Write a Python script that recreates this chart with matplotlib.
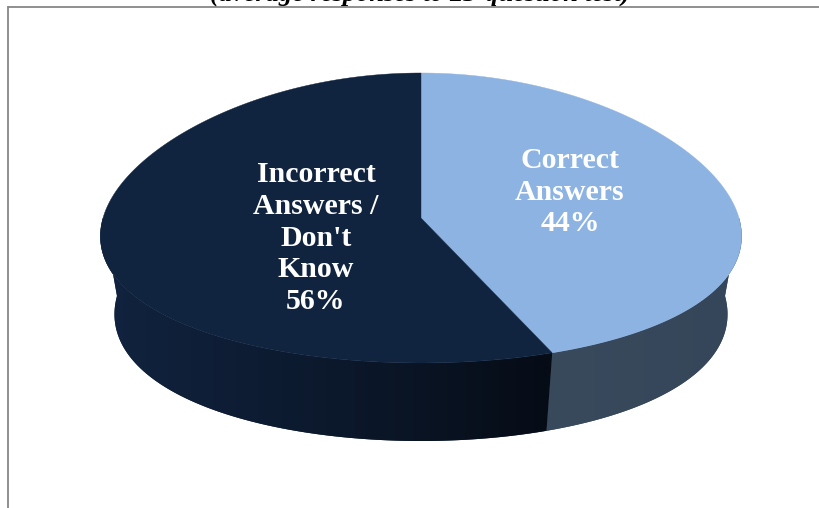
import numpy as np
import matplotlib

matplotlib.use("Agg")
import matplotlib.pyplot as plt
from matplotlib.colors import LinearSegmentedColormap
from matplotlib.patches import Polygon

# ---- data ----
labels = ["Correct\nAnswers\n44%", "Incorrect\nAnswers /\nDon't\nKnow\n56%"]
shares = [44, 56]
title = "(average responses to 23-question test)"

top_colors = ["#8DB3E2", "#10243F"]
side_colors = [["#3A4A5D", "#36465A"], ["#11233F", "#0C192D", "#060C16"]]
label_xy = [(570, 192), (316, 238)]

# ---- 3D pie geometry (pixel space) ----
CX, CY = 421, 218
A_TOP, A_BOT = 318, 304
B = 145
DEPTH = 78
PERSP = 0.13
START = 90.0


def project(t_deg, z):
    t = np.radians(t_deg)
    a = A_TOP - (A_TOP - A_BOT) * z
    persp = 1 + PERSP * (-np.sin(t))
    x = CX + a * np.cos(t) * persp
    y = CY + DEPTH * z - B * np.sin(t)
    return x, y


fig = plt.figure(figsize=(8.2, 5.08), dpi=100)
ax = fig.add_axes([0, 0, 1, 1])
ax.set_xlim(0, 820)
ax.set_ylim(508, 0)
ax.axis("off")

# frame
ax.plot([8.5, 820], [6.8, 6.8], color="#878787", lw=1.3, solid_capstyle="butt")
ax.plot([8.5, 8.5], [6.2, 508], color="#878787", lw=1.3, solid_capstyle="butt")

# slice angle ranges, clockwise from 12 o'clock
bounds = []
ang = START
for s in shares:
    sweep = 360.0 * s / sum(shares)
    bounds.append((ang, ang - sweep))
    ang -= sweep

# side walls: only the front half (-180..0) is visible
for (t0, t1), cols in zip(bounds, side_colors):
    lo, hi = max(t1, -180.0), min(t0, 0.0)
    if lo >= hi:
        continue
    ts = np.linspace(hi, lo, 200)
    xt, yt = project(ts, 0)
    xb, yb = project(ts[::-1], 1)
    pts = np.column_stack([np.r_[xt, xb], np.r_[yt, yb]])
    poly = Polygon(pts, closed=True, facecolor=cols[0], edgecolor="none", zorder=2)
    ax.add_patch(poly)
    cmap = LinearSegmentedColormap.from_list("side", cols)
    grad = np.linspace(0, 1, 256).reshape(1, -1)
    x0, x1 = pts[:, 0].min(), pts[:, 0].max()
    y0, y1 = pts[:, 1].min(), pts[:, 1].max()
    im = ax.imshow(grad, cmap=cmap, extent=[x0, x1, y1, y0], aspect="auto",
                   interpolation="bilinear", zorder=2)
    im.set_clip_path(poly)

# top faces
for (t0, t1), col in zip(bounds, top_colors):
    ts = np.linspace(t0, t1, 300)
    x, y = project(ts, 0)
    pts = np.column_stack([np.r_[CX, x], np.r_[CY, y]])
    ax.add_patch(Polygon(pts, closed=True, facecolor=col, edgecolor=col,
                         lw=0.3, zorder=3))

# slice labels
for text, (lx, ly) in zip(labels, label_xy):
    ax.text(lx, ly, text, ha="center", va="center", color="white",
            fontfamily="Liberation Serif", fontweight="bold", fontsize=21.5,
            linespacing=1.22, zorder=4)

# title (mostly cropped off the top edge)
ax.text(420, 0.5, title, ha="center", va="baseline", color="black",
        fontfamily="Liberation Serif", fontweight="bold", fontstyle="italic",
        fontsize=19, zorder=4)

fig.savefig("out.png", dpi=100)
